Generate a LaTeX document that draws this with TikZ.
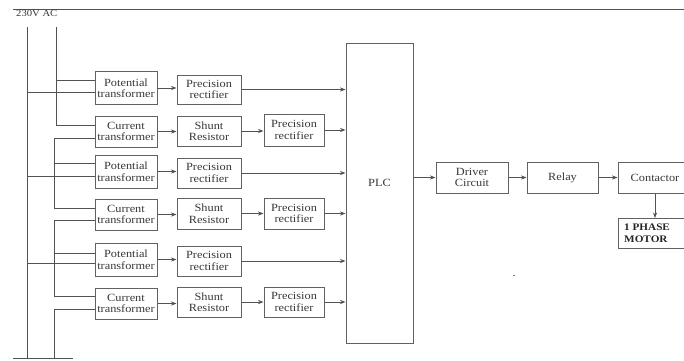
\documentclass[tikz,border=0pt]{standalone}
\usepackage{fontspec}
\setmainfont{Liberation Serif}[FakeStretch=1.12]
\usetikzlibrary{arrows.meta}
\begin{document}
\begin{tikzpicture}[x=1pt,y=-1pt,
  box/.style={draw=black!62, line width=1pt, inner sep=0pt, align=center, text=black!78, font=\fontsize{11}{11.5}\selectfont},
  wire/.style={draw=black!68, line width=1pt},
  arr/.style={wire, -{Stealth[length=5.5pt,width=4.2pt]}}]
\useasboundingbox (0,0) rectangle (684,360);
% top and bottom lines
\coordinate (topL) at (13,9); \coordinate (topR) at (684,9);
\draw[wire] (topL) -- (topR);
\node[anchor=north west, inner sep=0pt, text=black!78, font=\fontsize{9.5}{10}\selectfont] (src) at (16,10) {230V AC};
% column 1
\node[box, minimum width=62pt, minimum height=33pt] (pt1) at (126,88) {Potential\\transformer};
\node[box, minimum width=62pt, minimum height=31pt] (ct1) at (126,131.5) {Current\\transformer};
\node[box, minimum width=62pt, minimum height=33pt] (pt2) at (126,171.5) {Potential\\transformer};
\node[box, minimum width=62pt, minimum height=31pt] (ct2) at (126,214.5) {Current\\transformer};
\node[box, minimum width=62pt, minimum height=33pt] (pt3) at (126,259.5) {Potential\\transformer};
\node[box, minimum width=62pt, minimum height=31pt] (ct3) at (126,303.5) {Current\\transformer};
% column 2
\node[box, minimum width=64pt, minimum height=29pt] (pr1) at (209,89.5) {Precision\\rectifier};
\node[box, minimum width=64pt, minimum height=30pt] (sr1) at (209,131) {Shunt\\Resistor};
\node[box, minimum width=64pt, minimum height=30pt] (pr2) at (209,173) {Precision\\rectifier};
\node[box, minimum width=64pt, minimum height=31pt] (sr2) at (209,213.5) {Shunt\\Resistor};
\node[box, minimum width=64pt, minimum height=30pt] (pr3) at (209,261) {Precision\\rectifier};
\node[box, minimum width=64pt, minimum height=30pt] (sr3) at (209,302) {Shunt\\Resistor};
% column 3
\node[box, minimum width=60pt, minimum height=32pt] (pq1) at (294,130) {Precision\\rectifier};
\node[box, minimum width=60pt, minimum height=31pt] (pq2) at (294,213.5) {Precision\\rectifier};
\node[box, minimum width=60pt, minimum height=30pt] (pq3) at (294,302) {Precision\\rectifier};
% PLC
\node[box, minimum width=67pt, minimum height=300pt] (plc) at (379.5,193) {};
\node[text=black!78, font=\fontsize{11}{11.5}\selectfont] (plclabel) at (379.5,183) {PLC};
% right chain
\node[box, minimum width=72pt, minimum height=31pt] (drv) at (472,177.5) {Driver\\Circuit};
\node[box, minimum width=71pt, minimum height=31pt] (rly) at (562.5,177.5) {Relay};
\node[box, minimum width=74pt, minimum height=31pt] (con) at (655,177.5) {Contactor};
\node[box, minimum width=84pt, minimum height=30pt, anchor=north west] (mot) at (618,218) {};
\node[anchor=west, align=left, inner sep=0pt, text=black!85, font=\fontsize{10}{11.5}\selectfont\bfseries] (mottxt) at (624,233) {1 PHASE\\MOTOR};
% arrows rows
\foreach \a/\b in {pt1/pr1,ct1/sr1,pt2/pr2,ct2/sr2,pt3/pr3,ct3/sr3,sr1/pq1,sr2/pq2,sr3/pq3}
  \draw[arr] (\a.east) -- (\a.east -| \b.west);
\foreach \a in {pr1,pq1,pr2,pq2,pr3,pq3}
  \draw[arr] (\a.east) -- (\a.east -| plc.west);
\draw[arr] (plc.east |- drv.west) -- (drv.west);
\draw[arr] (drv.east) -- (rly.west);
\draw[arr] (rly.east) -- (con.west);
\draw[arr] (con.south) -- (con.south |- mot.north);
% left wiring
\coordinate (L0) at (27,27); \coordinate (L9) at (27,358);
\draw[wire] (L0) -- (L9);
\coordinate (l1) at (27,92); \coordinate (l2) at (27,176); \coordinate (l3) at (27,263);
\draw[wire] (l1) -- (pt1.west |- l1);
\draw[wire] (l2) -- (pt2.west |- l2);
\draw[wire] (l3) -- (pt3.west |- l3);
\coordinate (a0) at (56,27); \coordinate (a1) at (56,80); \coordinate (a2) at (56,125);
\draw[wire] (a0) -- (a2) -- (ct1.west |- a2);
\draw[wire] (a1) -- (pt1.west |- a1);
\coordinate (b1) at (54,138); \coordinate (b2) at (54,163); \coordinate (b3) at (54,208);
\draw[wire] (ct1.west |- b1) -- (b1) -- (b3) -- (ct2.west |- b3);
\draw[wire] (b2) -- (pt2.west |- b2);
\coordinate (c1) at (54,220); \coordinate (c2) at (54,253); \coordinate (c3) at (54,296);
\draw[wire] (ct2.west |- c1) -- (c1) -- (c3) -- (ct3.west |- c3);
\draw[wire] (c2) -- (pt3.west |- c2);
\coordinate (d1) at (54,309); \coordinate (d2) at (54,358);
\draw[wire] (ct3.west |- d1) -- (d1) -- (d2);
\coordinate (botL) at (13,358); \coordinate (botR) at (73,358);
\draw[wire] (botL) -- (botR);
% stray dot
\fill[black!55] (513,274.5) rectangle (515,276);
\end{tikzpicture}
\end{document}
